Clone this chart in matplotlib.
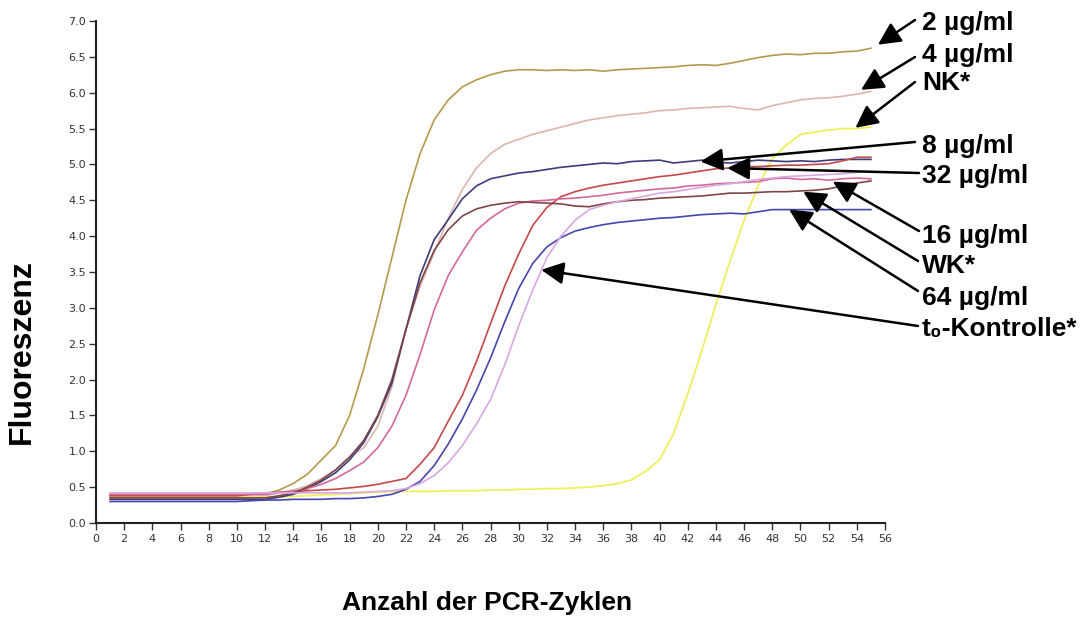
import matplotlib
matplotlib.use("Agg")
import matplotlib.pyplot as plt

# ---------------- data ----------------
cycles = list(range(1, 56))

ug2 = [0.38]*10 + [0.39, 0.40, 0.46, 0.55, 0.68, 0.88, 1.08, 1.50, 2.15, 2.90,
       3.70, 4.50, 5.15, 5.62, 5.90, 6.08, 6.18, 6.25, 6.30, 6.32,
       6.32, 6.31, 6.32, 6.31, 6.32, 6.30, 6.32, 6.33, 6.34, 6.35,
       6.36, 6.38, 6.39, 6.38, 6.41, 6.45, 6.49, 6.52, 6.54, 6.53,
       6.55, 6.55, 6.57, 6.58, 6.62]
ug4 = [0.38]*12 + [0.42, 0.46, 0.52, 0.62, 0.74, 0.92, 1.05, 1.35,
       1.90, 2.70, 3.30, 3.77, 4.25, 4.65, 4.95, 5.15, 5.28, 5.35,
       5.42, 5.47, 5.52, 5.57, 5.62, 5.65, 5.68, 5.70, 5.72, 5.75,
       5.76, 5.78, 5.79, 5.80, 5.81, 5.78, 5.76, 5.82, 5.86, 5.90,
       5.92, 5.93, 5.95, 5.98, 6.02]
nk = [0.36]*13 + [0.37, 0.38, 0.39, 0.40, 0.41, 0.42, 0.43,
      0.44, 0.44, 0.44, 0.44, 0.45, 0.45, 0.45, 0.46, 0.46, 0.47,
      0.47, 0.48, 0.48, 0.49, 0.50, 0.52, 0.55, 0.60, 0.72, 0.88,
      1.25, 1.80, 2.40, 3.05, 3.65, 4.22, 4.70, 5.08, 5.27, 5.42,
      5.45, 5.48, 5.50, 5.50, 5.52]
ug8 = [0.33]*12 + [0.36, 0.40, 0.48, 0.58, 0.70, 0.88, 1.12, 1.48,
       1.95, 2.70, 3.45, 3.95, 4.23, 4.52, 4.70, 4.80, 4.84, 4.88,
       4.90, 4.93, 4.96, 4.98, 5.00, 5.02, 5.01, 5.04, 5.05, 5.06,
       5.02, 5.04, 5.06, 5.03, 5.02, 5.04, 5.06, 5.05, 5.04, 5.05,
       5.04, 5.06, 5.07, 5.07, 5.07]
ug32 = [0.38]*10 + [0.40, 0.42, 0.43, 0.44, 0.45, 0.46, 0.47, 0.49, 0.51, 0.54,
        0.58, 0.62, 0.82, 1.05, 1.42, 1.78, 2.25, 2.78, 3.30, 3.75,
        4.15, 4.40, 4.55, 4.62, 4.67, 4.71, 4.74, 4.77, 4.80, 4.83,
        4.85, 4.88, 4.91, 4.94, 4.95, 4.97, 4.97, 4.98, 4.99, 4.99,
        5.00, 5.01, 5.05, 5.10, 5.10]
ug16 = [0.40]*12 + [0.42, 0.44, 0.48, 0.54, 0.62, 0.73, 0.85, 1.05,
        1.35, 1.78, 2.35, 2.97, 3.45, 3.78, 4.08, 4.25, 4.38, 4.46,
        4.49, 4.50, 4.52, 4.53, 4.55, 4.57, 4.60, 4.62, 4.64, 4.66,
        4.67, 4.70, 4.71, 4.73, 4.74, 4.75, 4.76, 4.80, 4.81, 4.79,
        4.80, 4.78, 4.80, 4.81, 4.80]
wk = [0.35]*12 + [0.38, 0.42, 0.50, 0.60, 0.74, 0.92, 1.15, 1.50,
      2.00, 2.70, 3.35, 3.80, 4.09, 4.28, 4.38, 4.43, 4.46, 4.48,
      4.47, 4.46, 4.45, 4.42, 4.41, 4.45, 4.48, 4.50, 4.51, 4.53,
      4.54, 4.55, 4.56, 4.58, 4.60, 4.60, 4.61, 4.62, 4.62, 4.63,
      4.64, 4.66, 4.70, 4.74, 4.77]
ug64 = [0.30]*10 + [0.31, 0.32, 0.32, 0.33, 0.33, 0.33, 0.34, 0.34, 0.35, 0.37,
        0.40, 0.47, 0.58, 0.80, 1.10, 1.45, 1.85, 2.30, 2.80, 3.27,
        3.62, 3.85, 3.98, 4.07, 4.12, 4.16, 4.19, 4.21, 4.23, 4.25,
        4.26, 4.28, 4.30, 4.31, 4.32, 4.31, 4.34, 4.37, 4.37, 4.37,
        4.37, 4.37, 4.37, 4.37, 4.37]
t0 = [0.42]*18 + [0.43, 0.44,
      0.45, 0.48, 0.55, 0.66, 0.84, 1.08, 1.38, 1.72, 2.20, 2.75,
      3.25, 3.70, 4.00, 4.22, 4.37, 4.43, 4.48, 4.52, 4.56, 4.60,
      4.62, 4.65, 4.68, 4.71, 4.73, 4.76, 4.79, 4.81, 4.83, 4.84,
      4.85, 4.86, 4.87, 4.89, 4.90]

series = [
    ("2 µg/ml", ug2, "#b39a4c"),
    ("4 µg/ml", ug4, "#dcb6ae"),
    ("NK*", nk, "#eeee50"),
    ("8 µg/ml", ug8, "#3c3c7c"),
    ("32 µg/ml", ug32, "#c64848"),
    ("16 µg/ml", ug16, "#d4689a"),
    ("WK*", wk, "#7e4646"),
    ("64 µg/ml", ug64, "#4646b0"),
    ("t₀-Kontrolle*", t0, "#d8a8e2"),
]

# label positions (figure pixels: left x, baseline y from top) and arrow tips (data)
label_pos = {
    "2 µg/ml": (922, 30), "4 µg/ml": (922, 62), "NK*": (922, 90),
    "8 µg/ml": (922, 153), "32 µg/ml": (922, 183), "16 µg/ml": (922, 243),
    "WK*": (922, 273), "64 µg/ml": (922, 305), "t₀-Kontrolle*": (922, 336),
}
arrow_start = {
    "2 µg/ml": (915, 20), "4 µg/ml": (915, 57), "NK*": (915, 82),
    "8 µg/ml": (915, 142), "32 µg/ml": (919, 173), "16 µg/ml": (919, 231),
    "WK*": (918, 261), "64 µg/ml": (918, 291), "t₀-Kontrolle*": (918, 326),
}
arrow_tip = {
    "2 µg/ml": (55.5, 6.67), "4 µg/ml": (54.3, 6.04), "NK*": (53.9, 5.51),
    "8 µg/ml": (42.9, 5.04), "32 µg/ml": (44.8, 4.95), "16 µg/ml": (52.3, 4.76),
    "WK*": (50.2, 4.62), "64 µg/ml": (49.2, 4.37), "t₀-Kontrolle*": (31.6, 3.53),
}

W, H = 1083, 619
fig = plt.figure(figsize=(W/100, H/100), dpi=100)
ax = fig.add_axes([96/W, 1-523/H, (885-96)/W, (523-21)/H])

for name, vals, col in series:
    ax.plot(cycles, vals, color=col, lw=1.2, solid_joinstyle="round")

ax.set_xlim(0, 56)
ax.set_ylim(0, 7)
ax.set_xticks(range(0, 57, 2))
ax.set_yticks([i*0.5 for i in range(15)])
ax.set_yticklabels([f"{i*0.5:.1f}" for i in range(15)])
for s in ("top", "right"):
    ax.spines[s].set_visible(False)
for s in ("left", "bottom"):
    ax.spines[s].set_linewidth(1.5)
    ax.spines[s].set_color("#222222")
ax.tick_params(axis="both", direction="out", length=5, width=1, color="#333333",
               labelsize=8, labelcolor="#333333")
ax.tick_params(axis="x", pad=3)
ax.tick_params(axis="y", pad=2)

lab_font = dict(family=["Liberation Sans", "DejaVu Sans"], fontweight="bold", fontsize=19)
for name, vals, col in series:
    lx, ly = label_pos[name]
    fig.text(lx/W, 1-ly/H, name, ha="left", va="baseline", **lab_font)
    sx, sy = arrow_start[name]
    ax.annotate("", xy=arrow_tip[name], xycoords="data",
                xytext=(sx, H-sy), textcoords="figure pixels",
                arrowprops=dict(arrowstyle="-|>,head_length=0.8,head_width=0.4",
                                color="black", lw=1.8, shrinkA=0, shrinkB=0,
                                mutation_scale=17))

fig.text(22/W, 1-352/H, "Fluoreszenz", rotation=90, ha="center", va="center",
         family=["Liberation Sans", "DejaVu Sans"], fontweight="bold", fontsize=23)
fig.text(487/W, 1-603/H, "Anzahl der PCR-Zyklen", ha="center", va="center",
         family=["Liberation Sans", "DejaVu Sans"], fontweight="bold", fontsize=19)

fig.savefig("out.png", dpi=100)
